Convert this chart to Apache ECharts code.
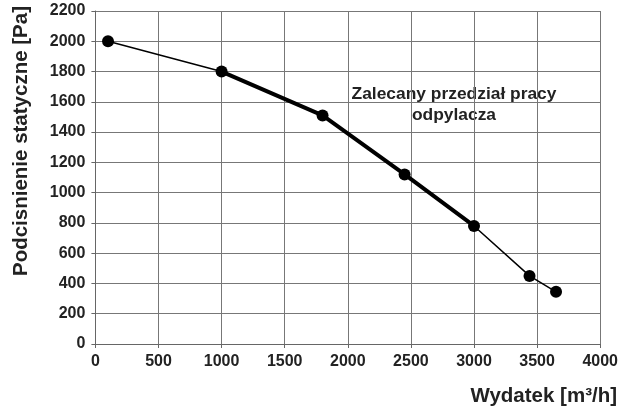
<!DOCTYPE html>
<html><head><meta charset="utf-8">
<script src="https://cdn.jsdelivr.net/npm/echarts@6/dist/echarts.min.js"></script>
<style>html,body{margin:0;padding:0;background:#fff}#c{width:621px;height:410px}</style>
</head><body><div id="c"></div>
<script>
const flow = [100, 1000, 1800, 2450, 3000, 3440, 3650];
const pressure = [2000, 1800, 1510, 1120, 780, 450, 345];
const recommendedFlow = [1000, 1800, 2450, 3000];
const recommendedPressure = [1800, 1510, 1120, 780];
const xTitle = 'Wydatek [m³/h]';
const yTitle = 'Podcisnienie statyczne [Pa]';
const note = 'Zalecany przedział pracy\nodpylacza';

const font = 'Liberation Sans';
const chart = echarts.init(document.getElementById('c'));
const mkLbl = () => ({
  show: true, color: '#222', fontFamily: font, fontWeight: 'bold', fontSize: 16, margin: 10,
  formatter: v => String(v)
});
chart.setOption({
  animation: false,
  grid: {left: 95.4, right: 20, top: 11, bottom: 66},
  xAxis: {
    type: 'value', min: 0, max: 4000, interval: 500,
    axisLine: {lineStyle: {color: '#666', width: 1}},
    axisTick: {show: true, length: 4, lineStyle: {color: '#666'}},
    axisLabel: mkLbl(),
    splitLine: {lineStyle: {color: '#777', width: 1}}
  },
  yAxis: {
    type: 'value', min: 0, max: 2200, interval: 200,
    axisLine: {show: true, lineStyle: {color: '#666', width: 1}},
    axisTick: {show: true, length: 4, lineStyle: {color: '#666'}},
    axisLabel: mkLbl(),
    splitLine: {lineStyle: {color: '#777', width: 1}}
  },
  graphic: [
    {type: 'text', style: {text: yTitle, fill: '#222', fontFamily: font, fontWeight: 700, fontSize: 20.5, align: 'center', verticalAlign: 'middle'}, rotation: Math.PI/2, x: 21, y: 141},
    {type: 'text', style: {text: xTitle, fill: '#222', fontFamily: font, fontWeight: 700, fontSize: 20.5, align: 'right', verticalAlign: 'middle'}, x: 617, y: 396},
    {type: 'text', style: {text: note, fill: '#222', fontFamily: font, fontWeight: 700, fontSize: 17.4, align: 'center', verticalAlign: 'middle', lineHeight: 21}, x: 454, y: 105}
  ],
  series: [
    {type: 'line', data: flow.map((x, i) => [x, pressure[i]]), symbol: 'circle', symbolSize: 12,
     lineStyle: {color: '#000', width: 1.5}, itemStyle: {color: '#000'}, z: 3},
    {type: 'line', data: recommendedFlow.map((x, i) => [x, recommendedPressure[i]]), symbol: 'none',
     lineStyle: {color: '#000', width: 4}, z: 2}
  ]
});
</script></body></html>
